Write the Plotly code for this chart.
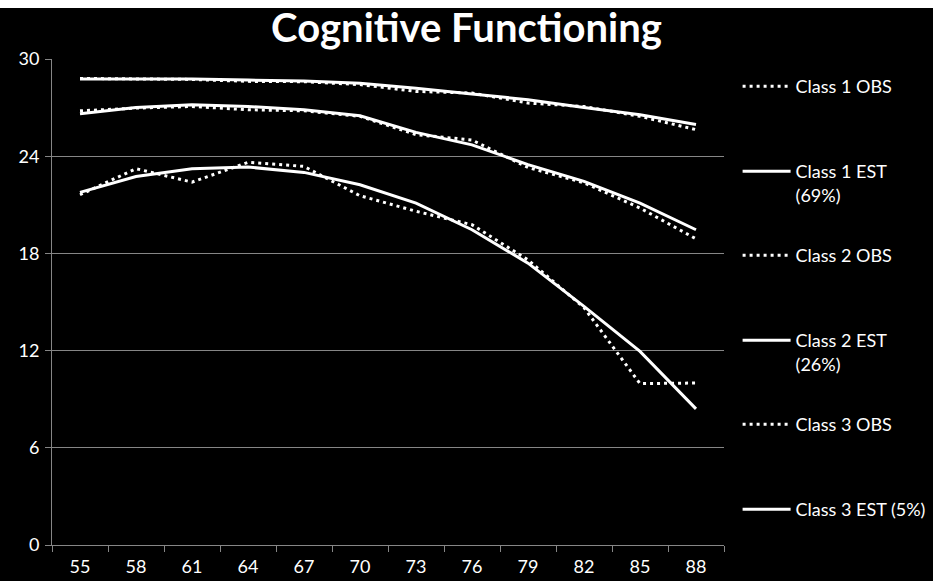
import plotly.graph_objects as go

ages = ["55", "58", "61", "64", "67", "70", "73", "76", "79", "82", "85", "88"]

class1_obs = [28.80, 28.78, 28.74, 28.62, 28.60, 28.42, 28.00, 27.90, 27.28, 27.07, 26.46, 25.64]
class1_est = [28.77, 28.78, 28.77, 28.70, 28.64, 28.50, 28.20, 27.84, 27.49, 27.00, 26.56, 25.96]
class2_obs = [26.80, 26.97, 27.07, 26.87, 26.80, 26.46, 25.33, 25.00, 23.30, 22.36, 20.80, 18.90]
class2_est = [26.62, 27.00, 27.18, 27.07, 26.87, 26.50, 25.47, 24.70, 23.48, 22.45, 21.10, 19.46]
class3_obs = [21.62, 23.23, 22.40, 23.62, 23.37, 21.56, 20.60, 19.77, 17.60, 14.65, 9.96, 10.00]
class3_est = [21.77, 22.75, 23.23, 23.33, 23.00, 22.24, 21.10, 19.46, 17.40, 14.73, 11.95, 8.40]

series = [
    ("Class 1 OBS", class1_obs, True),
    ("Class 1 EST<br>(69%)", class1_est, False),
    ("Class 2 OBS", class2_obs, True),
    ("Class 2 EST<br>(26%)", class2_est, False),
    ("Class 3 OBS", class3_obs, True),
    ("Class 3 EST (5%)", class3_est, False),
]

W, H = 933, 581
L, R, T, B = 52, 209, 59, 36
pw, ph = W - L - R, H - T - B

legend_rows = [86, 171, 255, 340, 424, 509]

fig = go.Figure()
layout_legends = {}
for i, (name, vals, dotted) in enumerate(series):
    lg = "legend" if i == 0 else f"legend{i+1}"
    fig.add_trace(go.Scatter(
        x=ages, y=vals, mode="lines", name=name,
        line=dict(color="white", width=3, dash="3px,4px" if dotted else "solid"),
        legend=lg, showlegend=True,
    ))
    layout_legends[lg] = dict(
        x=(737.6 - L) / pw, xanchor="left",
        y=1 - (legend_rows[i] - 18 - T) / ph, yanchor="top",
        bgcolor="rgba(0,0,0,0)", borderwidth=0,
        font=dict(family="Lato", size=18, color="white"),
        valign="top", itemwidth=48,
    )

fig.update_layout(
    width=W, height=H,
    margin=dict(l=L, r=R, t=T, b=B, autoexpand=False),
    paper_bgcolor="black", plot_bgcolor="black",
    title=dict(text="<b>Cognitive Functioning</b>", x=0.5, xanchor="center",
               y=1 - 28 / H, yanchor="middle",
               font=dict(family="Lato", size=40, color="white")),
    xaxis=dict(type="category", range=[-0.5, 11.5], tickson="boundaries",
               ticks="outside", ticklen=6, ticklabelstandoff=5,
               tickcolor="#868686", showline=True, linecolor="#868686", linewidth=1,
               showgrid=False, tickfont=dict(family="Lato", size=18, color="white"),
               zeroline=False, automargin=False),
    yaxis=dict(range=[0, 30], dtick=6, ticks="outside", ticklen=6, tickcolor="#868686",
               ticklabelstandoff=2,
               showline=True, linecolor="#868686", linewidth=1,
               showgrid=True, gridcolor="#868686", gridwidth=1, zeroline=False,
               tickfont=dict(family="Lato", size=18, color="white"), automargin=False),
    showlegend=True,
    shapes=[dict(type="rect", xref="paper", yref="paper",
                 x0=-L / pw, x1=(W - L) / pw, y0=1 + (T - 8) / ph, y1=1 + T / ph,
                 fillcolor="white", line=dict(width=0), layer="above")],
    **layout_legends,
)

fig.write_html(
    "out.html",
    config={"displayModeBar": False},
    post_script="document.body.style.margin='0';document.body.style.background='black';",
)
